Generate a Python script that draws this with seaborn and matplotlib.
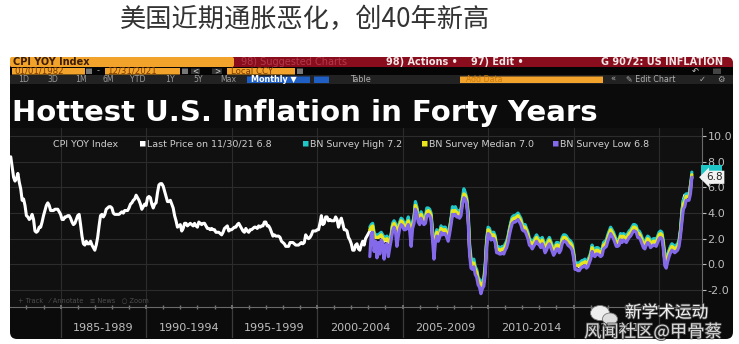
import numpy as np
import pandas as pd
import matplotlib
matplotlib.use("Agg")
import matplotlib.pyplot as plt
import seaborn as sns
from matplotlib.patches import FancyBboxPatch, Ellipse
from matplotlib.transforms import blended_transform_factory
import matplotlib.patheffects as pe

# ---------------- data ----------------
cpi_start_year = 1982
cpi_yoy = [
    8.4, 7.6, 6.8, 6.5, 6.7, 7.1, 6.4, 5.9, 5.0, 5.1, 4.6, 3.8,   # 1982
    3.7, 3.5, 3.6, 3.9, 3.5, 2.6, 2.5, 2.6, 2.9, 2.9, 3.3, 3.8,   # 1983
    4.2, 4.6, 4.8, 4.6, 4.2, 4.2, 4.2, 4.3, 4.3, 4.3, 4.1, 3.9,   # 1984
    3.5, 3.5, 3.7, 3.7, 3.8, 3.8, 3.6, 3.3, 3.1, 3.2, 3.5, 3.8,   # 1985
    3.9, 3.1, 2.2, 1.6, 1.5, 1.8, 1.6, 1.6, 1.8, 1.5, 1.3, 1.1,   # 1986
    1.5, 2.1, 3.0, 3.8, 3.9, 3.7, 3.9, 4.3, 4.4, 4.5, 4.5, 4.4,   # 1987
    4.0, 3.9, 3.9, 3.9, 3.9, 4.0, 4.1, 4.0, 4.2, 4.2, 4.2, 4.4,   # 1988
    4.7, 4.8, 5.0, 5.1, 5.4, 5.2, 5.0, 4.7, 4.3, 4.5, 4.7, 4.6,   # 1989
    5.2, 5.3, 5.2, 4.7, 4.4, 4.7, 4.8, 5.6, 6.2, 6.3, 6.3, 6.1,   # 1990
    5.7, 5.3, 4.9, 4.9, 5.0, 4.7, 4.4, 3.8, 3.4, 2.9, 3.0, 3.1,   # 1991
    2.6, 2.8, 3.2, 3.2, 3.0, 3.1, 3.2, 3.1, 3.0, 3.2, 3.0, 2.9,   # 1992
    3.3, 3.2, 3.1, 3.2, 3.2, 3.0, 2.8, 2.8, 2.7, 2.8, 2.7, 2.7,   # 1993
    2.5, 2.5, 2.5, 2.4, 2.3, 2.5, 2.8, 2.9, 3.0, 2.6, 2.7, 2.7,   # 1994
    2.8, 2.9, 2.9, 3.1, 3.2, 3.0, 2.8, 2.6, 2.5, 2.8, 2.6, 2.5,   # 1995
    2.7, 2.7, 2.8, 2.9, 2.9, 2.8, 3.0, 2.9, 3.0, 3.0, 3.3, 3.3,   # 1996
    3.0, 3.0, 2.8, 2.5, 2.2, 2.3, 2.2, 2.2, 2.2, 2.1, 1.8, 1.7,   # 1997
    1.6, 1.4, 1.4, 1.4, 1.7, 1.7, 1.7, 1.6, 1.5, 1.5, 1.5, 1.6,   # 1998
    1.7, 1.6, 1.7, 2.3, 2.1, 2.0, 2.1, 2.3, 2.6, 2.6, 2.6, 2.7,   # 1999
    2.7, 3.2, 3.8, 3.1, 3.2, 3.7, 3.7, 3.4, 3.5, 3.4, 3.4, 3.4,   # 2000
    3.7, 3.5, 2.9, 3.3, 3.6, 3.2, 2.7, 2.7, 2.6, 2.1, 1.9, 1.6,   # 2001
    1.1, 1.1, 1.5, 1.6, 1.2, 1.1, 1.5, 1.8, 1.5, 2.0, 2.2, 2.4,   # 2002
    2.6, 3.0, 3.0, 2.2, 2.1, 2.1, 2.1, 2.2, 2.3, 2.0, 1.8, 1.9,   # 2003
    1.9, 1.7, 1.7, 2.3, 3.1, 3.3, 3.0, 2.7, 2.5, 3.2, 3.5, 3.3,   # 2004
    3.0, 3.0, 3.1, 3.5, 2.8, 2.5, 3.2, 3.6, 4.7, 4.3, 3.5, 3.4,   # 2005
    4.0, 3.6, 3.4, 3.5, 4.2, 4.3, 4.1, 3.8, 2.1, 1.3, 2.0, 2.5,   # 2006
    2.1, 2.4, 2.8, 2.6, 2.7, 2.7, 2.4, 2.0, 2.8, 3.5, 4.3, 4.1,   # 2007
    4.3, 4.0, 4.0, 3.9, 4.2, 5.0, 5.6, 5.4, 4.9, 3.7, 1.1, 0.1,   # 2008
    0.0, 0.2, -0.4, -0.7, -1.3, -1.4, -2.1, -1.5, -1.3, -0.2, 1.8, 2.7,  # 2009
    2.6, 2.1, 2.3, 2.2, 2.0, 1.1, 1.2, 1.1, 1.1, 1.2, 1.1, 1.5,   # 2010
    1.6, 2.1, 2.7, 3.2, 3.6, 3.6, 3.6, 3.8, 3.9, 3.5, 3.4, 3.0,   # 2011
    2.9, 2.9, 2.7, 2.3, 1.7, 1.7, 1.4, 1.7, 2.0, 2.2, 1.8, 1.7,   # 2012
    1.6, 2.0, 1.5, 1.1, 1.4, 1.8, 2.0, 1.5, 1.2, 1.0, 1.2, 1.5,   # 2013
    1.6, 1.1, 1.5, 2.0, 2.1, 2.1, 2.0, 1.7, 1.7, 1.7, 1.3, 0.8,   # 2014
    -0.1, 0.0, -0.1, -0.2, 0.0, 0.1, 0.2, 0.2, 0.0, 0.2, 0.5, 0.7,  # 2015
    1.4, 1.0, 0.9, 1.1, 1.0, 1.0, 0.8, 1.1, 1.5, 1.6, 1.7, 2.1,   # 2016
    2.5, 2.7, 2.4, 2.2, 1.9, 1.6, 1.7, 1.9, 2.2, 2.0, 2.2, 2.1,   # 2017
    2.1, 2.2, 2.4, 2.5, 2.8, 2.9, 2.9, 2.7, 2.3, 2.5, 2.2, 1.9,   # 2018
    1.6, 1.5, 1.9, 2.0, 1.8, 1.6, 1.8, 1.7, 1.7, 1.8, 2.1, 2.3,   # 2019
    2.5, 2.3, 1.5, 0.3, 0.1, 0.6, 1.0, 1.3, 1.4, 1.2, 1.2, 1.4,   # 2020
    1.4, 1.7, 2.6, 4.2, 5.0, 5.4, 5.4, 5.3, 5.4, 6.2, 6.8,        # 2021
]

survey_start_year = 2003
survey_high = [
    2.9, 3.1, 3.2, 2.5, 2.3, 2.3, 2.3, 2.4, 2.5, 2.3, 2.1, 2.1,
    2.2, 2.0, 1.9, 2.4, 3.2, 3.4, 3.2, 3.0, 2.8, 3.3, 3.6, 3.5,
    3.2, 3.2, 3.3, 3.7, 3.1, 2.8, 3.3, 3.7, 4.9, 4.5, 3.8, 3.6,
    4.1, 3.8, 3.6, 3.7, 4.4, 4.4, 4.3, 4.0, 2.6, 1.8, 2.2, 2.7,
    2.3, 2.6, 3.0, 2.8, 2.9, 2.9, 2.6, 2.3, 2.9, 3.6, 4.5, 4.4,
    4.5, 4.2, 4.2, 4.1, 4.3, 5.2, 5.9, 5.6, 5.2, 4.1, 1.6, 0.5,
    0.3, 0.4, -0.2, -0.4, -1.0, -1.2, -1.8, -1.3, -1.1, 0.0, 2.0, 2.9,
    2.8, 2.4, 2.5, 2.5, 2.2, 1.4, 1.4, 1.3, 1.3, 1.4, 1.3, 1.6,
    1.8, 2.2, 2.8, 3.3, 3.7, 3.8, 3.8, 3.9, 4.0, 3.8, 3.6, 3.2,
    3.1, 3.1, 2.8, 2.5, 2.0, 1.9, 1.7, 1.9, 2.1, 2.3, 2.1, 2.0,
    1.8, 2.1, 1.8, 1.4, 1.6, 1.9, 2.1, 1.8, 1.5, 1.2, 1.4, 1.7,
    1.7, 1.4, 1.6, 2.1, 2.3, 2.3, 2.2, 2.0, 1.9, 1.8, 1.6, 1.0,
    0.1, 0.1, 0.1, 0.1, 0.2, 0.3, 0.3, 0.4, 0.2, 0.3, 0.6, 0.9,
    1.5, 1.2, 1.1, 1.3, 1.3, 1.2, 1.1, 1.2, 1.7, 1.8, 1.9, 2.3,
    2.6, 2.9, 2.7, 2.5, 2.2, 1.9, 1.9, 2.0, 2.4, 2.2, 2.4, 2.3,
    2.2, 2.4, 2.6, 2.7, 2.9, 3.1, 3.1, 3.0, 2.6, 2.6, 2.4, 2.1,
    1.8, 1.7, 2.0, 2.2, 2.1, 1.8, 1.9, 2.0, 2.0, 1.9, 2.2, 2.5,
    2.6, 2.5, 1.8, 0.7, 0.4, 0.8, 1.1, 1.4, 1.6, 1.5, 1.4, 1.5,
    1.6, 1.9, 2.7, 3.9, 5.0, 5.2, 5.5, 5.5, 5.5, 6.0, 7.2,
]
survey_median = [
    2.7, 2.9, 3.0, 2.3, 2.1, 2.1, 2.1, 2.2, 2.3, 2.1, 1.9, 1.9,
    2.0, 1.8, 1.7, 2.2, 3.0, 3.2, 3.0, 2.8, 2.6, 3.1, 3.4, 3.3,
    3.0, 3.0, 3.1, 3.4, 2.9, 2.6, 3.1, 3.5, 4.6, 4.3, 3.6, 3.4,
    3.9, 3.6, 3.4, 3.5, 4.1, 4.2, 4.1, 3.8, 2.3, 1.5, 2.0, 2.5,
    2.1, 2.4, 2.8, 2.6, 2.7, 2.7, 2.4, 2.1, 2.7, 3.4, 4.2, 4.1,
    4.2, 4.0, 4.0, 3.9, 4.1, 5.0, 5.5, 5.4, 5.0, 3.8, 1.3, 0.2,
    0.0, 0.1, -0.4, -0.6, -1.2, -1.4, -2.0, -1.5, -1.4, -0.3, 1.7, 2.7,
    2.6, 2.2, 2.3, 2.3, 2.0, 1.2, 1.2, 1.1, 1.1, 1.2, 1.1, 1.4,
    1.6, 2.0, 2.6, 3.1, 3.5, 3.6, 3.6, 3.7, 3.8, 3.6, 3.4, 3.0,
    2.9, 2.9, 2.6, 2.3, 1.8, 1.7, 1.5, 1.7, 1.9, 2.1, 1.9, 1.8,
    1.6, 1.9, 1.6, 1.2, 1.4, 1.7, 1.9, 1.6, 1.3, 1.0, 1.2, 1.5,
    1.5, 1.2, 1.4, 1.9, 2.1, 2.1, 2.0, 1.8, 1.7, 1.6, 1.4, 0.8,
    -0.1, -0.1, -0.1, -0.1, 0.0, 0.1, 0.1, 0.2, 0.0, 0.1, 0.4, 0.7,
    1.3, 1.0, 0.9, 1.1, 1.1, 1.0, 0.9, 1.0, 1.5, 1.6, 1.7, 2.1,
    2.4, 2.7, 2.5, 2.3, 2.0, 1.7, 1.7, 1.8, 2.2, 2.0, 2.2, 2.1,
    2.0, 2.2, 2.4, 2.5, 2.7, 2.9, 2.9, 2.8, 2.4, 2.4, 2.2, 1.9,
    1.6, 1.5, 1.8, 2.0, 1.9, 1.6, 1.7, 1.8, 1.8, 1.7, 2.0, 2.3,
    2.4, 2.3, 1.6, 0.4, 0.1, 0.6, 0.9, 1.2, 1.4, 1.3, 1.2, 1.3,
    1.4, 1.7, 2.5, 3.6, 4.7, 4.9, 5.3, 5.3, 5.3, 5.8, 7.0,
]
survey_low = [
    0.6, 2.4, 2.5, 1.0, 1.8, 0.5, 1.7, 0.8, 1.9, 1.7, 0.4, 1.5,
    1.6, 0.6, 1.3, 1.9, 2.6, 2.9, 2.6, 1.4, 2.2, 2.8, 3.1, 3.0,
    2.7, 2.7, 2.8, 3.1, 2.6, 1.4, 2.8, 3.2, 4.3, 4.0, 3.3, 3.1,
    3.6, 3.3, 3.1, 3.2, 3.8, 3.9, 3.8, 3.5, 2.0, 0.4, 1.7, 2.2,
    1.8, 2.1, 2.5, 2.3, 2.4, 2.4, 2.1, 1.8, 2.4, 3.1, 3.9, 3.8,
    3.9, 3.7, 3.7, 3.6, 3.8, 4.7, 5.2, 5.1, 4.7, 3.4, 0.8, -0.3,
    -0.4, -0.2, -0.8, -1.0, -1.6, -1.8, -2.3, -1.9, -1.7, -0.7, 1.3, 2.4,
    2.3, 1.9, 2.0, 2.0, 1.7, 0.9, 0.9, 0.8, 0.8, 0.9, 0.8, 1.1,
    1.3, 1.7, 2.3, 2.8, 3.2, 3.3, 3.3, 3.4, 3.5, 3.3, 3.1, 2.7,
    2.6, 2.6, 2.3, 2.0, 1.5, 1.4, 1.2, 1.4, 1.6, 1.8, 1.6, 1.5,
    1.3, 1.6, 1.3, 0.9, 1.1, 1.4, 1.6, 1.3, 1.0, 0.7, 0.9, 1.2,
    1.2, 0.9, 1.1, 1.6, 1.8, 1.8, 1.7, 1.5, 1.4, 1.3, 1.1, 0.5,
    -0.4, -0.4, -0.5, -0.5, -0.3, -0.2, -0.2, -0.1, -0.3, -0.2, 0.1, 0.4,
    1.0, 0.7, 0.6, 0.8, 0.8, 0.7, 0.6, 0.7, 1.2, 1.3, 1.4, 1.8,
    2.1, 2.4, 2.2, 2.0, 1.7, 1.4, 1.4, 1.5, 1.9, 1.7, 1.9, 1.8,
    1.7, 1.9, 2.1, 2.2, 2.4, 2.6, 2.6, 2.5, 2.1, 2.1, 1.9, 1.6,
    1.3, 1.2, 1.5, 1.7, 1.6, 1.3, 1.4, 1.5, 1.5, 1.4, 1.7, 2.0,
    2.1, 2.0, 1.2, -0.1, -0.3, 0.2, 0.6, 0.9, 1.1, 1.0, 0.9, 1.0,
    1.1, 1.4, 2.2, 3.3, 4.3, 4.5, 5.0, 5.0, 5.0, 5.5, 6.8,
]
y_ticks = [-2, 0, 2, 4, 6, 8, 10]
period_labels = ["1985-1989", "1990-1994", "1995-1999", "2000-2004",
                 "2005-2009", "2010-2014", "2015-2019"]
period_starts = [1985, 1990, 1995, 2000, 2005, 2010, 2015, 2020]

# ---------------- style ----------------
sns.set_theme(style="dark")
plt.rcParams["font.family"] = ["DejaVu Sans", "Noto Sans CJK SC"]

W, H = 739, 344
fig = plt.figure(figsize=(W / 100, H / 100), dpi=100, facecolor="white")


def fx(p):
    return p / W


def fy(p):
    return 1 - p / H


def box(x0, y0, x1, y1, color, r=0.0, z=0):
    p = FancyBboxPatch((x0 / 100, (H - y1) / 100), (x1 - x0) / 100, (y1 - y0) / 100,
                       boxstyle=f"round,pad=0,rounding_size={r / 100}",
                       transform=fig.dpi_scale_trans, fc=color, ec="none", zorder=z)
    fig.add_artist(p)
    return p


def txt(x, y, s, size=6.5, color="#aaaaaa", weight="normal", ha="left", va="center", z=5, **kw):
    return fig.text(fx(x), fy(y), s, fontsize=size, color=color, weight=weight,
                    ha=ha, va=va, zorder=z, **kw)


PANEL = "#0b0b0b"
ORANGE = "#f2a32c"
RED = "#8a0d1e"
CYAN = "#1fc6c8"
YELLOW = "#e9e61c"
PURPLE = "#8469ea"

# Chinese headline
t_cn = txt(120, 20, "美国近期通胀恶化，创40年新高", size=18, color="#333333",
           family=["Noto Sans CJK SC", "DejaVu Sans"])

# Terminal panel
box(10, 58, 733, 339, PANEL, r=7, z=0)
box(10, 57, 733, 72, RED, r=6, z=1)
box(10, 57, 234, 67, ORANGE, r=2, z=2)
box(10, 67, 733, 75, "#050505", z=2)
box(10, 75, 733, 84, "#222222", z=2)

# Row 1
txt(13, 62, "CPI YOY Index", size=7, color="#3a1c00", weight="bold")
txt(241, 62, "98) Suggested Charts", size=7, color="#b23a4a")
txt(386, 62, "98) Actions •", size=7, color="#f4e8e8", weight="bold")
txt(471, 62, "97) Edit •", size=7, color="#f4e8e8", weight="bold")
txt(723, 62, "G 9072: US INFLATION", size=7, color="#f4e8e8", weight="bold", ha="right")

# Row 2
box(12, 68, 85, 74.5, ORANGE, z=3)
txt(14, 71.2, "01/01/1982", size=6.2, color="#7a3b00", z=4)
box(86, 68.5, 92, 74, "#777777", z=3)
txt(97, 71, "-", size=6, color="#aaaaaa")
box(105, 68, 180, 74.5, ORANGE, z=3)
txt(107, 71.2, "12/31/2021", size=6.2, color="#7a3b00", z=4)
box(182, 68.5, 188, 74, "#777777", z=3)
box(191, 68.5, 200, 74, "#333333", z=3)
txt(195.5, 71, "<", size=5.5, color="#cccccc", ha="center")
box(212, 68.5, 222, 74, "#333333", z=3)
txt(217, 71, ">", size=5.5, color="#cccccc", ha="center")
box(227, 68, 295, 74.5, ORANGE, z=3)
txt(231, 71.2, "Local CCY", size=6.2, color="#7a3b00", z=4)
box(297, 68.5, 303, 74, "#777777", z=3)
txt(695, 71, "↶", size=6, color="#cccccc", ha="center")
box(713, 68.5, 721, 74, "#444444", z=3)

# Row 3
for lab, xx in zip(["1D", "3D", "1M", "6M", "YTD", "1Y", "5Y", "Max"],
                   [18, 47, 75, 102, 130, 165, 193, 220]):
    txt(xx, 79.5, lab, size=5.6, color="#9a9a9a")
box(247, 76.5, 310, 83, "#1f5fc4", z=3)
txt(251, 79.7, "Monthly ▼", size=5.8, color="white", weight="bold", z=4)
box(314, 76.5, 329, 83, "#1f5fc4", z=3)
txt(350, 79.5, "Table", size=5.8, color="#b0b0b0")
box(460, 76.5, 603, 83, ORANGE, z=3)
txt(466, 79.7, "Add Data", size=5.6, color="#c87b10", z=4)
txt(610, 79.5, "«", size=6, color="#aaaaaa")
txt(626, 79.5, "✎ Edit Chart", size=5.8, color="#b0b0b0")
txt(702, 79.5, "✓", size=6, color="#aaaaaa", ha="center")
txt(721, 79.5, "⚙", size=6, color="#aaaaaa", ha="center")

# Big title
t_title = txt(12, 121, "Hottest U.S. Inflation in Forty Years", size=20,
              color="white", weight="bold", va="baseline")

# ---------------- main chart ----------------
X0, X1 = 10, 702
Y_TOP, Y_BOT = 128, 307
ax = fig.add_axes([fx(X0), fy(Y_BOT), (X1 - X0) / W, (Y_BOT - Y_TOP) / H])
ax.set_facecolor("#101010")
ax.set_zorder(3)

cpi_x = cpi_start_year + (np.arange(len(cpi_yoy)) + 1) / 12.0
sv_x = survey_start_year + (np.arange(len(survey_median)) + 1) / 12.0
df_cpi = pd.DataFrame({"date": cpi_x, "value": cpi_yoy})
df_sv = pd.DataFrame({"date": sv_x, "high": survey_high,
                      "median": survey_median, "low": survey_low})

sns.lineplot(data=df_cpi, x="date", y="value", ax=ax, color="white", lw=2.2,
             estimator=None, zorder=3)
sns.lineplot(data=df_sv, x="date", y="high", ax=ax, color=CYAN, lw=2.3,
             estimator=None, zorder=4)
sns.lineplot(data=df_sv, x="date", y="median", ax=ax, color=YELLOW, lw=2.3,
             estimator=None, zorder=5)
sns.lineplot(data=df_sv, x="date", y="low", ax=ax, color=PURPLE, lw=2.3,
             estimator=None, zorder=6)

ax.set_xlim(1982.04, 2022.51)
ax.set_ylim(-3.34, 10.65)
ax.set_xlabel("")
ax.set_ylabel("")
ax.set_yticks(y_ticks)
ax.set_yticklabels([f"{v:.1f}" for v in y_ticks])
ax.yaxis.tick_right()
ax.tick_params(axis="y", colors="#bdbdbd", labelsize=8, direction="out", length=3,
               width=0.8, pad=1, right=True, left=False)
ax.set_xticks(period_starts)
ax.set_xticklabels([])
ax.set_xticks(np.arange(1983, 2023), minor=True)
ax.tick_params(axis="x", which="both", direction="inout", length=3, color="#777777",
               bottom=True)
ax.grid(True, which="major", color="#2c2c2c", lw=0.8)
ax.grid(False, which="minor")
for s in ["top", "left"]:
    ax.spines[s].set_visible(False)
for s in ["right", "bottom"]:
    ax.spines[s].set_color("#6a6a6a")
    ax.spines[s].set_linewidth(0.8)

# last value tags on the right axis
tr = blended_transform_factory(ax.transAxes, ax.transData)
ax.text(1.002, survey_high[-1], "     ", transform=tr, fontsize=7.5, va="center",
        ha="left", clip_on=False, zorder=7,
        bbox=dict(boxstyle="square,pad=0.25", fc=CYAN, ec="none"))
ax.text(1.006, cpi_yoy[-1], f"{cpi_yoy[-1]:.1f}", transform=tr, fontsize=7.5,
        color="#222222", va="center", ha="left", clip_on=False, zorder=8,
        bbox=dict(boxstyle="larrow,pad=0.15", fc="#f2f2f2", ec="none"))

# legend inside the chart
LY = 144
txt(53, LY, "CPI YOY Index", size=6.8, color="#cfcfcf", z=10)
legend_items = [
    (140, "white", f"Last Price on 11/30/21 {cpi_yoy[-1]:.1f}"),
    (303, CYAN, f"BN Survey High {survey_high[-1]:.1f}"),
    (422, YELLOW, f"BN Survey Median {survey_median[-1]:.1f}"),
    (553, PURPLE, f"BN Survey Low {survey_low[-1]:.1f}"),
]
for xx, col, lab in legend_items:
    box(xx, LY - 3, xx + 5.5, LY + 2.5, col, z=10)
    txt(xx + 7, LY, lab, size=6.8, color="#cfcfcf", z=10)

txt(18, 300, "+ Track   ⁄ Annotate   ≡ News   ○ Zoom", size=4.8, color="#4e4e4e", z=10)

# ---------------- period band under the axis ----------------
axb = fig.add_axes([fx(X0), fy(338), (X1 - X0) / W, (338 - Y_BOT) / H])
axb.set_facecolor(PANEL)
axb.set_xlim(ax.get_xlim())
axb.set_ylim(0, 1)
axb.axis("off")
for yr in period_starts:
    axb.axvline(yr, color="#3c3c3c", lw=0.9)
for lab, st in zip(period_labels, period_starts):
    axb.text(st + 2.5, 0.33, lab, ha="center", va="center", fontsize=8,
             color="#bdbdbd", family="Liberation Sans Narrow")

# ---------------- watermark ----------------
wm = dict(transform=fig.dpi_scale_trans, zorder=20)
fig.add_artist(Ellipse((600 / 100, (H - 313) / 100), 0.19, 0.15, fc="#eeeeee",
                       ec="#777777", lw=0.6, **wm))
fig.add_artist(Ellipse((610 / 100, (H - 319) / 100), 0.15, 0.12, fc="#dddddd",
                       ec="#777777", lw=0.6, **wm))
stroke = [pe.withStroke(linewidth=1.2, foreground="#444444")]
txt(625, 313, "新学术运动", size=12, color="#f2f2f2", z=21,
    family=["Noto Sans CJK SC", "DejaVu Sans"], path_effects=stroke)
txt(584, 332, "风闻社区@甲骨蔡", size=12.5, color="#e6e6e6", z=21,
    family=["Noto Sans CJK SC", "DejaVu Sans"], path_effects=stroke, alpha=0.9)

# fit the two headline texts to their measured widths
fig.canvas.draw()
r = fig.canvas.get_renderer()
bb = t_title.get_window_extent(r)
t_title.set_fontsize(t_title.get_fontsize() * 585 / bb.width)
bb = t_cn.get_window_extent(r)
t_cn.set_fontsize(t_cn.get_fontsize() * 370 / bb.width)

fig.savefig("out.png", dpi=100, facecolor="white")
